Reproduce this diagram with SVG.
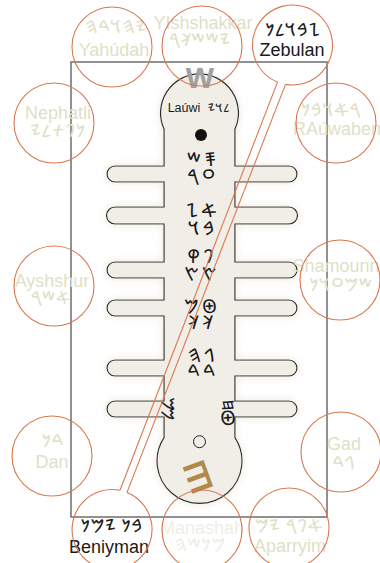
<svg xmlns="http://www.w3.org/2000/svg" width="380" height="563" viewBox="0 0 380 563">
<style>
.ring{fill:none;stroke:#d9774f;stroke-width:1.1}
.pale{fill:#e0dfc8;font-family:"Liberation Sans",Arial,sans-serif;font-size:18px;text-anchor:middle}
.ink{fill:#1a1a1a;font-family:"Liberation Sans",Arial,sans-serif;font-size:18px;text-anchor:middle}
.pg{fill:#e0dfc8;font-family:"Noto Sans Phoenician","Noto Sans","DejaVu Sans",sans-serif;font-size:18px;text-anchor:middle;letter-spacing:0.5px}
.ig{fill:#1a1a1a;font-family:"Noto Sans Phoenician","Noto Sans","DejaVu Sans",sans-serif;font-size:18px;text-anchor:middle;letter-spacing:0.5px}
.bg{fill:#1a1a1a;font-family:"Noto Sans Phoenician","Noto Sans","DejaVu Sans",sans-serif;font-size:19px;text-anchor:middle;letter-spacing:3px}
.sg{fill:#1a1a1a;font-family:"Noto Sans Phoenician","Noto Sans","DejaVu Sans",sans-serif;font-size:17px;text-anchor:middle}
.tail{fill:none;stroke:#d9774f;stroke-width:1.1}
</style>
<defs>
<filter id="glow" x="-20%" y="-10%" width="140%" height="120%">
<feGaussianBlur in="SourceAlpha" stdDeviation="4" result="b"/>
<feFlood flood-color="#e9e2d4" flood-opacity="0.8"/>
<feComposite in2="b" operator="in" result="s"/>
<feMerge><feMergeNode in="s"/><feMergeNode in="SourceGraphic"/></feMerge>
</filter>
</defs>
<rect id="frame" x="71" y="62" width="256" height="455" fill="none" stroke="#6e6e6e" stroke-width="1.5"/>
<g id="body">
<path filter="url(#glow)" fill="#f1eee8" stroke="#2a2a2a" stroke-width="1.2" d="M164,129.1 A39,39 0 1 1 235,129.1 L235,166 L289,166 A8,8 0 0 1 289,182 L235,182 L235,207 L289,207 A8,8 0 0 1 289,224 L235,224 L235,262 L289,262 A8,8 0 0 1 289,278 L235,278 L235,300 L289,300 A8,8 0 0 1 289,316 L235,316 L235,360 L289,360 A8,8 0 0 1 289,376 L235,376 L235,401 L289,401 A8,8 0 0 1 289,417 L235,417 L235,437.6 A42.5,42.5 0 1 1 164,437.6 L164,417 L115,417 A8,8 0 0 1 115,401 L164,401 L164,376 L115,376 A8,8 0 0 1 115,360 L164,360 L164,316 L115,316 A8,8 0 0 1 115,300 L164,300 L164,278 L115,278 A8,8 0 0 1 115,262 L164,262 L164,224 L115,224 A8,8 0 0 1 115,207 L164,207 L164,182 L115,182 A8,8 0 0 1 115,166 L164,166 Z"/>
<text x="200" y="88" font-family="Liberation Sans,Arial,sans-serif" font-weight="bold" font-size="30" fill="#a0a0a0" text-anchor="middle">W</text>
<text x="184" y="112" font-family="Liberation Sans,Arial,sans-serif" font-size="12.5" fill="#1a1a1a" text-anchor="middle">Laúwi</text>
<text x="219" y="112" class="ig" style="font-size:12px">𐤋𐤅𐤉</text>
<circle cx="201" cy="135" r="6" fill="#111"/>
<text class="bg"><tspan x="203" y="166">𐤎𐤔</tspan><tspan x="203" y="183">𐤏𐤓</tspan></text>
<text class="bg"><tspan x="203" y="217">𐤀𐤆</tspan><tspan x="203" y="235">𐤁𐤅</tspan></text>
<text class="bg"><tspan x="202" y="263">𐤐𐤒</tspan><tspan x="202" y="281">𐤑𐤑</tspan></text>
<text class="bg"><tspan x="202" y="313">𐤈𐤌</tspan><tspan x="202" y="329">𐤊𐤊</tspan></text>
<text class="bg"><tspan x="203" y="362">𐤂𐤄</tspan><tspan x="203" y="378">𐤃𐤃</tspan></text>
<text class="sg" transform="translate(168,404) rotate(90)" dy="6">𐤌</text>
<text class="sg" transform="translate(168,414) rotate(90)" dy="6">𐤌</text>
<text class="sg" transform="translate(228,405) rotate(90)" dy="6">𐤇</text>
<text class="sg" x="228" y="425" style="font-size:20px">𐤈</text>
<circle cx="199.5" cy="441.7" r="6" fill="none" stroke="#222" stroke-width="1"/>
<text transform="translate(198,477) rotate(-110)" font-family="Liberation Sans,Arial,sans-serif" font-weight="bold" font-size="32" fill="#b08a4a" text-anchor="middle" dy="11">Ш</text>
</g>
<g id="yahudah"><text class="pg" x="116" y="33">𐤉𐤄𐤅𐤃𐤄</text><text class="pale" x="114" y="56">Yahúdah</text><circle class="ring" cx="112" cy="47" r="40"/></g>
<g id="yishshakkar"><text class="pale" x="203" y="29">YIshshakkar</text><text class="pg" x="200" y="46">𐤉𐤔𐤔𐤊𐤓</text><circle class="ring" cx="202" cy="46" r="40"/></g>
<g id="zebulan"><text class="ig" x="293" y="36">𐤆𐤁𐤅𐤋𐤍</text><text class="ink" x="292" y="56">Zebulan</text><path class="ring" d="M277.5,82.1 A40,40 0 1 1 285.5,84.4"/></g>
<g id="nephatli"><text class="pale" x="58" y="119">Nephatli</text><text class="pg" x="58" y="137">𐤍𐤐𐤕𐤋𐤉</text><circle class="ring" cx="54" cy="123" r="40"/></g>
<g id="rauwaben"><text class="pg" x="331" y="116">𐤓𐤀𐤅𐤁𐤍</text><text class="pale" x="337" y="135">RAúwaben</text><circle class="ring" cx="336" cy="123" r="40"/></g>
<g id="ayshshur"><text class="pale" x="52" y="287">Ayshshur</text><text class="pg" x="51" y="304">𐤀𐤔𐤓</text><circle class="ring" cx="54" cy="286" r="40"/></g>
<g id="shamounn"><text class="pale" x="336" y="272">Shamounn</text><text class="pg" x="341" y="291">𐤔𐤌𐤏𐤅𐤍</text><circle class="ring" cx="340" cy="280" r="40"/></g>
<g id="dan"><text class="pg" x="53" y="447">𐤃𐤍</text><text class="pale" x="52" y="468">Dan</text><circle class="ring" cx="52" cy="456" r="40"/></g>
<g id="gad"><text class="pale" x="344" y="450">Gad</text><text class="pg" x="344" y="469">𐤂𐤃</text><circle class="ring" cx="341" cy="452" r="40"/></g>
<g id="beniyman"><text class="ig" x="112" y="532">𐤁𐤍 𐤉𐤌𐤍</text><text class="ink" x="109" y="553">Beniyman</text><path class="ring" d="M127,492.4 A40,40 0 1 1 120,490.3"/></g>
<g id="manashah"><text class="pale" x="202" y="534" style="fill:#efeee4">Manashah</text><text class="pg" x="200" y="551" style="fill:#efeee4">𐤌𐤍𐤔𐤄</text><circle class="ring" cx="202" cy="530" r="40"/></g>
<g id="aparryim"><text class="pg" x="289" y="532">𐤀𐤐𐤓 𐤉𐤌</text><text class="pale" x="290" y="552">Aparryim</text><circle class="ring" cx="289" cy="528" r="40"/></g>
<g id="connectors">
<path class="tail" d="M277.5,82.1 L120,490.3"/>
<path class="tail" d="M285.5,84.4 L127,492.4"/>
</g>
</svg>
